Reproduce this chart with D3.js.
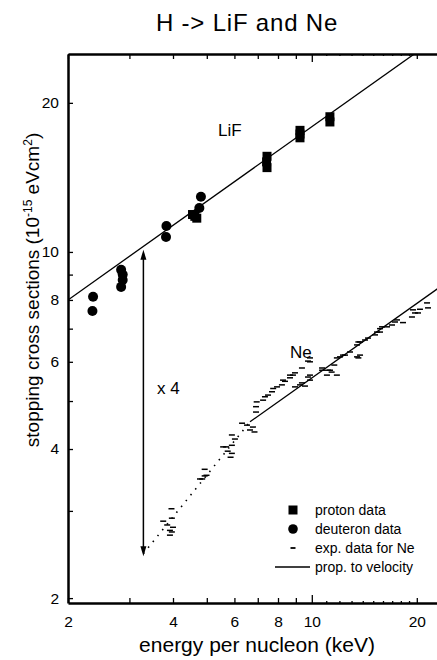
<!DOCTYPE html>
<html>
<head>
<meta charset="utf-8">
<script src="https://cdn.jsdelivr.net/npm/d3@7"></script>
<style>
  body { margin: 0; background: #fff; }
  svg { display: block; font-family: "Liberation Sans", Arial, sans-serif; }
  .axis text { font-size: 15.5px; fill: #000; }
  .axis path, .axis line { stroke: #000; }
</style>
</head>
<body>
<svg id="chart" width="437" height="660"></svg>
<script>
// ─── DATA ─────────────────────────────────────────────────────────────────────
// energy per nucleon (keV), stopping cross section (1e-15 eV cm2)
const protonData = [
  [4.55, 11.9], [4.68, 11.7], [4.62, 11.8],
  [7.44, 15.6], [7.42, 15.2], [7.44, 14.8],
  [9.25, 17.6], [9.25, 17.3], [9.25, 17.0],
  [11.27, 18.75], [11.27, 18.3],
];
const deuteronData = [
  [2.36, 8.12], [2.35, 7.6],
  [2.84, 9.2], [2.87, 9.0], [2.87, 8.78], [2.84, 8.5],
  [3.83, 11.28], [3.82, 10.72],
  [4.81, 12.92], [4.76, 12.27],
];
const neData = [
  [3.96, 3.03], [3.75, 2.86], [3.97, 2.90], [3.85, 2.81], [4.00, 2.78],
  [3.92, 2.74], [3.97, 2.72], [3.92, 2.68],
  [4.93, 3.64], [4.78, 3.48], [4.93, 3.53], [4.99, 3.54], [4.85, 3.48],
  [5.90, 4.27], [6.02, 4.19], [5.57, 4.04], [5.68, 4.04], [5.74, 3.96],
  [5.85, 3.85], [5.90, 3.92], [5.90, 4.07],
  [6.31, 4.51], [6.52, 4.47], [6.78, 4.43], [6.85, 4.33], [6.65, 4.37],
  [6.92, 4.75], [6.92, 4.87], [6.95, 4.98],
  [7.25, 5.02], [7.34, 5.10], [7.49, 5.14], [7.69, 5.22], [7.75, 5.30],
  [7.95, 5.34], [8.21, 5.39], [8.27, 5.51], [8.38, 5.48], [8.66, 5.57],
  [8.66, 5.64], [8.83, 5.64], [8.95, 5.70], [9.37, 5.83], [9.75, 6.02],
  [9.88, 6.11], [9.88, 6.00],
  [8.95, 5.34], [9.25, 5.39], [9.37, 5.44], [9.56, 5.36], [9.75, 5.59],
  [9.88, 5.51], [9.88, 5.64], [10.70, 5.83], [10.70, 5.77], [11.13, 5.77],
  [11.28, 5.77], [11.40, 5.72], [11.05, 5.64], [11.80, 5.64], [11.60, 5.91],
  [11.80, 6.11], [12.05, 6.14], [12.29, 6.19], [12.45, 6.19], [12.87, 6.28],
  [13.48, 6.49], [13.60, 6.58], [13.48, 6.14], [13.60, 6.11], [13.75, 6.19],
  [13.75, 6.58], [14.21, 6.64], [14.49, 6.70], [15.18, 6.80], [15.38, 6.89],
  [15.69, 6.89], [15.69, 7.00], [15.90, 7.06], [16.43, 7.06], [16.98, 7.12],
  [17.32, 7.22], [17.55, 7.29], [18.26, 7.20], [19.37, 7.39], [19.50, 7.64],
  [19.76, 7.53], [20.16, 7.53], [20.42, 7.66], [21.40, 7.89], [21.54, 7.71],
];
// lines proportional to velocity (end points)
const lifLine = [[2, 8.0], [25, 28.3]];
const neLine = [[6.65, 4.54], [25, 8.8]];
const neLowLine = [[3.29, 2.46], [6.65, 4.54]];
const arrowE = 3.29, arrowTop = 10.1, arrowBottom = 2.43;

const xTicks = [2, 3, 4, 5, 6, 7, 8, 9, 10, 20];
const xMinorTicks = [11, 12, 13, 14, 15, 16, 17, 18, 19];
const xTickLabels = [2, 4, 6, 8, 10, 20];
const yTicks = [2, 3, 4, 5, 6, 7, 8, 9, 10, 20];
const yTickLabels = [2, 4, 6, 8, 10, 20];
const legendLabels = ['proton data', 'deuteron data', 'exp. data for Ne', 'prop. to velocity'];

// ─── CHART SETUP ──────────────────────────────────────────────────────────────
const svg = d3.select('#chart');
const x = d3.scaleLog().domain([2, 25]).range([68, 450.6]);
const y = d3.scaleLog().domain([1.955, 25.1]).range([603, 54]);
const line = d3.line().x((d) => x(d[0])).y((d) => y(d[1]));

svg.append('defs').append('clipPath').attr('id', 'plot')
  .append('rect').attr('x', 68).attr('y', 54).attr('width', 400).attr('height', 549);

// title
svg.append('text').attr('x', 247).attr('y', 31).attr('text-anchor', 'middle')
  .style('font-size', '24px').style('letter-spacing', '0.8px').text('H -> LiF and Ne');

// axes
const fmtX = (d) => (xTickLabels.includes(d) ? d : '');
const bottomAxis = svg.append('g').attr('class', 'axis').attr('transform', 'translate(0,603)')
  .call(d3.axisBottom(x).tickValues(xTicks).tickSize(-5).tickSizeOuter(0).tickPadding(13).tickFormat(fmtX));
bottomAxis.selectAll('.tick line').filter((d) => d === 10).attr('y2', -8);
svg.append('g').attr('class', 'axis').attr('transform', 'translate(0,603)')
  .call(d3.axisBottom(x).tickValues(xMinorTicks).tickSize(-2).tickFormat(''))
  .select('.domain').remove();

const topAxis = svg.append('g').attr('class', 'axis').attr('transform', 'translate(0,54)')
  .call(d3.axisTop(x).tickValues(xTicks).tickSize(-5).tickSizeOuter(0).tickFormat(''));
topAxis.selectAll('.tick line').filter((d) => d === 10).attr('y2', 8);
svg.append('g').attr('class', 'axis').attr('transform', 'translate(0,54)')
  .call(d3.axisTop(x).tickValues(xMinorTicks).tickSize(-2).tickFormat(''))
  .select('.domain').remove();

svg.append('g').attr('class', 'axis').attr('transform', 'translate(68,0)')
  .call(d3.axisLeft(y).tickValues(yTicks).tickSize(-5).tickSizeOuter(0).tickPadding(9)
    .tickFormat((d) => (yTickLabels.includes(d) ? d : '')));

svg.selectAll('.axis .domain').attr('stroke-width', 2.5);
svg.selectAll('.axis .tick line').attr('stroke-width', 1.3);

// axis titles
svg.append('text').attr('x', 257).attr('y', 652).attr('text-anchor', 'middle')
  .style('font-size', '21px').text('energy per nucleon (keV)');

const yl = svg.append('text').attr('transform', 'translate(39,290) rotate(-90)')
  .attr('text-anchor', 'middle').style('font-size', '19px');
yl.append('tspan').text('stopping cross sections (10');
yl.append('tspan').attr('dy', -7).style('font-size', '12px').text('-15');
yl.append('tspan').attr('dy', 7).text(' eVcm');
yl.append('tspan').attr('dy', -7).style('font-size', '12px').text('2');
yl.append('tspan').attr('dy', 7).text(')');

// ─── MARKS ────────────────────────────────────────────────────────────────────
const plot = svg.append('g').attr('clip-path', 'url(#plot)');

plot.append('path').datum(lifLine).attr('d', line)
  .attr('fill', 'none').attr('stroke', '#000').attr('stroke-width', 1.3);
plot.append('path').datum(neLine).attr('d', line)
  .attr('fill', 'none').attr('stroke', '#000').attr('stroke-width', 1.3);
plot.append('path').datum(neLowLine).attr('d', line)
  .attr('fill', 'none').attr('stroke', '#000').attr('stroke-width', 1.6)
  .attr('stroke-dasharray', '1.5,6');

plot.selectAll('line.ne').data(neData).join('line').attr('class', 'ne')
  .attr('x1', (d) => x(d[0]) - 3).attr('x2', (d) => x(d[0]) + 3)
  .attr('y1', (d) => y(d[1])).attr('y2', (d) => y(d[1]))
  .attr('stroke', '#000').attr('stroke-width', 1.5);

plot.selectAll('rect.proton').data(protonData).join('rect').attr('class', 'proton')
  .attr('x', (d) => x(d[0]) - 4.5).attr('y', (d) => y(d[1]) - 4.5)
  .attr('width', 9).attr('height', 9).attr('fill', '#000');

plot.selectAll('circle.deut').data(deuteronData).join('circle').attr('class', 'deut')
  .attr('cx', (d) => x(d[0])).attr('cy', (d) => y(d[1])).attr('r', 5).attr('fill', '#000');

// x 4 arrow
const ax = x(arrowE), ay1 = y(arrowTop), ay2 = y(arrowBottom);
plot.append('line').attr('x1', ax).attr('x2', ax).attr('y1', ay1 + 4).attr('y2', ay2 - 4)
  .attr('stroke', '#000').attr('stroke-width', 1.5);
plot.append('path').attr('d', `M${ax},${ay1} l-3,10 l6,0 Z`).attr('fill', '#000');
plot.append('path').attr('d', `M${ax},${ay2} l-3,-10 l6,0 Z`).attr('fill', '#000');

svg.append('text').attr('x', 157).attr('y', 394).style('font-size', '17px').text('x 4');
svg.append('text').attr('x', 218).attr('y', 136).style('font-size', '17px').text('LiF');
svg.append('text').attr('x', 290).attr('y', 358).style('font-size', '17px').text('Ne');

// ─── LEGEND ───────────────────────────────────────────────────────────────────
const leg = svg.append('g').attr('transform', 'translate(293,510)');
legendLabels.forEach((t, i) => {
  const g = leg.append('g').attr('transform', `translate(0,${i * 19})`);
  if (i === 0) g.append('rect').attr('x', -4.5).attr('y', -4.5).attr('width', 9).attr('height', 9);
  if (i === 1) g.append('circle').attr('r', 4.8);
  if (i === 2) g.append('line').attr('x1', -2.5).attr('x2', 2.5).attr('stroke', '#000').attr('stroke-width', 1.8);
  if (i === 3) g.append('line').attr('x1', -18).attr('x2', 17).attr('stroke', '#000').attr('stroke-width', 1.3);
  g.append('text').attr('x', 22).attr('y', 5).style('font-size', '14px').text(t);
});
</script>
</body>
</html>
